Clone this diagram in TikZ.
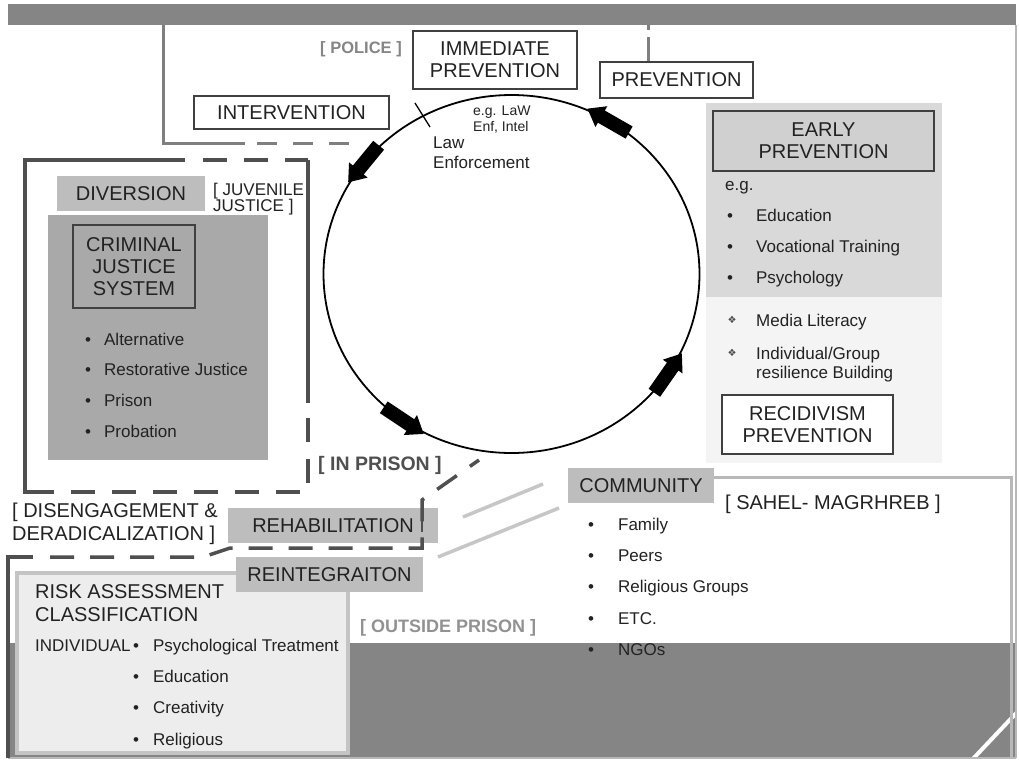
\documentclass[tikz,border=0pt]{standalone}
\usepackage{fontspec}
\setmainfont{Liberation Sans}
\newfontfamily\symfont{DejaVu Sans}
\definecolor{bandgray}{HTML}{858585}
\definecolor{framegray}{HTML}{7F7F7F}
\definecolor{bordergray}{HTML}{B8B8B8}
\definecolor{darkframe}{HTML}{4F4F4F}
\definecolor{taggray}{HTML}{BDBDBD}
\definecolor{cjsgray}{HTML}{A9A9A9}
\definecolor{earlygray}{HTML}{D9D9D9}
\definecolor{earlybox}{HTML}{D0D0D0}
\definecolor{panelgray}{HTML}{F4F4F4}
\definecolor{riskfill}{HTML}{EDEDED}
\definecolor{riskline}{HTML}{C4C4C4}
\definecolor{linkgray}{HTML}{C6C6C6}
\definecolor{ink}{HTML}{222222}
\newcommand{\cyclearrow}[2]{\fill[black, shift={(#1)}, rotate=#2] (-24,-7) -- (8,-7) -- (8,-12) -- (24,0) -- (8,12) -- (8,7) -- (-24,7) -- cycle;}
\tikzset{
  labelbox/.style={draw=black!75, line width=1.2pt, fill=white, align=center, inner sep=0pt, text=ink, font=\fontsize{20}{22}\selectfont},
  tag/.style={fill=taggray, inner sep=0pt, minimum height=35pt, text=ink, font=\fontsize{20}{22}\selectfont},
  item/.style={anchor=base west, inner sep=0pt, text=ink, font=\fontsize{17}{20}\selectfont},
  note/.style={anchor=base west, inner sep=0pt, align=left, text=ink},
  darkline/.style={darkframe, line width=4pt},
  darkdash/.style={darkframe, line width=4pt, dash pattern=on 24pt off 17pt},
  linkline/.style={linkgray, line width=3.5pt}
}
\begin{document}
\begin{tikzpicture}[x=1pt, y=1pt]
\useasboundingbox (0,0) rectangle (1019,-764);
\fill[white] (0,0) rectangle (1019,-764);

% panels behind everything
\fill[earlygray] (706,-103) rectangle (942,-297);
\fill[panelgray] (706,-297) rectangle (942,-463);
\fill[cjsgray] (48,-215) rectangle (268,-460);
\fill[bandgray] (8,-4) rectangle (1016,-25);
\fill[bandgray] (8,-643) rectangle (1016,-758);
\draw[white, line width=4pt] (970,-762) -- (1021,-708);
\draw[riskline, line width=4pt, fill=riskfill] (17,-573) rectangle (348,-753);

% frames
\draw[framegray, line width=3pt] (163,-25) -- (163,-143) -- (245,-143);
\draw[framegray, line width=3pt, dash pattern=on 20pt off 16pt] (257,-143) -- (350,-143);
\draw[framegray, line width=3pt, dash pattern=on 5pt off 7pt on 30pt off 0pt] (648,-25) -- (648,-62);
\draw[bordergray, line width=2.5pt] (1016,-25) -- (1016,-758);
\draw[bordergray, line width=3pt] (714,-477) -- (1011,-477) -- (1011,-758);
\draw[bordergray, line width=2pt] (8,-758) -- (1016,-758);
\draw[darkline] (185,-160) -- (25,-160) -- (25,-492) -- (53,-492);
\draw[darkdash] (203,-160) -- (308,-160);
\draw[darkline] (308,-160) -- (308,-403);
\draw[darkdash] (308,-418) -- (308,-492) -- (53,-492);

% cycle
\draw[line width=1.8pt] (511.5,-274) ellipse [x radius=188, y radius=179];
\draw[line width=1.3pt] (415,-103) -- (430,-127);
\cyclearrow{363.4,-163.8}{230.6}
\cyclearrow{608.3,-120.6}{150.2}
\cyclearrow{668.1,-373.1}{55.1}
\cyclearrow{403.7,-420.6}{326.3}

% boxes
\node[labelbox, minimum width=164pt, minimum height=58pt] (immediate) at (495,-60) {IMMEDIATE\\PREVENTION};
\node[labelbox, minimum width=153pt, minimum height=36pt] (prevention) at (676.5,-80) {PREVENTION};
\node[labelbox, minimum width=195pt, minimum height=33pt] (intervention) at (291.5,-112.5) {INTERVENTION};
\node[labelbox, fill=earlybox, minimum width=221pt, minimum height=60pt] (early) at (823.5,-141) {EARLY\\PREVENTION};
\node[labelbox, minimum width=171pt, minimum height=59pt] (recidivism) at (807.5,-424.5) {RECIDIVISM\\PREVENTION};
\node[labelbox, fill=none, minimum width=122pt, minimum height=83pt] (cjs) at (134,-266.5) {CRIMINAL\\JUSTICE\\SYSTEM};
\node[tag, minimum width=148pt] (diversion) at (131,-193.5) {DIVERSION};
\node[tag, minimum width=210pt] (rehab) at (333,-525.5) {REHABILITATION};
\node[tag, minimum width=187pt] (reint) at (329.5,-574.5) {REINTEGRAITON};
\node[tag, minimum width=146pt] (community) at (641,-485.5) {COMMUNITY};

% links
\coordinate (prisonend) at (479,-460);
\draw[darkline] (8,-758) -- (8,-557) -- (33,-557);
\draw[darkframe, line width=3.5pt, dash pattern=on 24pt off 16pt] (50,-557) -- (203,-557) -- (230,-548) -- (422,-548) -- (422,-500) -- (prisonend);
\draw[darkframe, line width=2.5pt] (422,-508) -- (422,-532);
\draw[linkline] (463,-517) -- (543,-484);
\draw[linkline] (438,-557) -- (559,-508);

% labels
\node[note, text=bandgray, font=\bfseries\fontsize{16.5}{18}\selectfont] (police) at (320,-53.3) {[ POLICE ]};
\node[note, font=\fontsize{14}{16.7}\selectfont] (eglaw) at (473,-131.7) {e.g. LaW\\Enf, Intel};
\node[note, font=\fontsize{17}{20}\selectfont] (lawenf) at (433,-168.3) {Law\\Enforcement};
\node[note, font=\fontsize{17}{16.7}\selectfont] (juvenile) at (213,-211.7) {[ JUVENILE\\JUSTICE ]};
\node[note, text=darkframe, font=\bfseries\fontsize{19.5}{22}\selectfont] (inprison) at (318,-470) {[ IN PRISON ]};
\node[note, font=\fontsize{20}{23}\selectfont] (disengage) at (12,-540) {[ DISENGAGEMENT \&\\DERADICALIZATION ]};
\node[note, font=\fontsize{20}{23.7}\selectfont] (risk) at (35,-621.7) {RISK ASSESSMENT\\CLASSIFICATION};
\node[item] (individual) at (35,-651.7) {INDIVIDUAL};
\node[note, text=framegray!85, font=\bfseries\fontsize{18}{20}\selectfont] (outside) at (360,-632.7) {[ OUTSIDE PRISON ]};
\node[note, font=\fontsize{20}{22}\selectfont] (sahel) at (725,-509.3) {[ SAHEL- MAGRHREB ]};
\node[item] (eg) at (725,-190.7) {e.g.};

% bullet lists
\foreach \txt [count=\i] in {Alternative,Restorative Justice,Prison,Probation}
  \node[item] (cjs\i) at (85,-345-30.67*\i+30.67) {\textbullet\hspace{13pt}\txt};
\foreach \txt [count=\i] in {Education,Vocational Training,Psychology}
  \node[item] (early\i) at (727,-221.7-30.65*\i+30.65) {\textbullet\hspace{23pt}\txt};
\foreach \txt [count=\i] in {Family,Peers,Religious Groups,ETC.,NGOs}
  \node[item] (comm\i) at (588,-530.7-31.1*\i+31.1) {\textbullet\hspace{24pt}\txt};
\foreach \txt [count=\i] in {Psychological Treatment,Education,Creativity,Religious}
  \node[item] (risk\i) at (133,-651.7-31.1*\i+31.1) {\textbullet\hspace{14pt}\txt};
\node[item] (media) at (756,-326.7) {Media Literacy};
\node[item, align=left, font=\fontsize{17}{19}\selectfont] (resilience) at (756,-378) {Individual/Group\\resilience Building};
\node[inner sep=0pt, text=black!70, font=\symfont\fontsize{10}{10}\selectfont] (dia1) at (732,-320) {❖};
\node[inner sep=0pt, text=black!70, font=\symfont\fontsize{10}{10}\selectfont] (dia2) at (732,-353) {❖};
\end{tikzpicture}
\end{document}
